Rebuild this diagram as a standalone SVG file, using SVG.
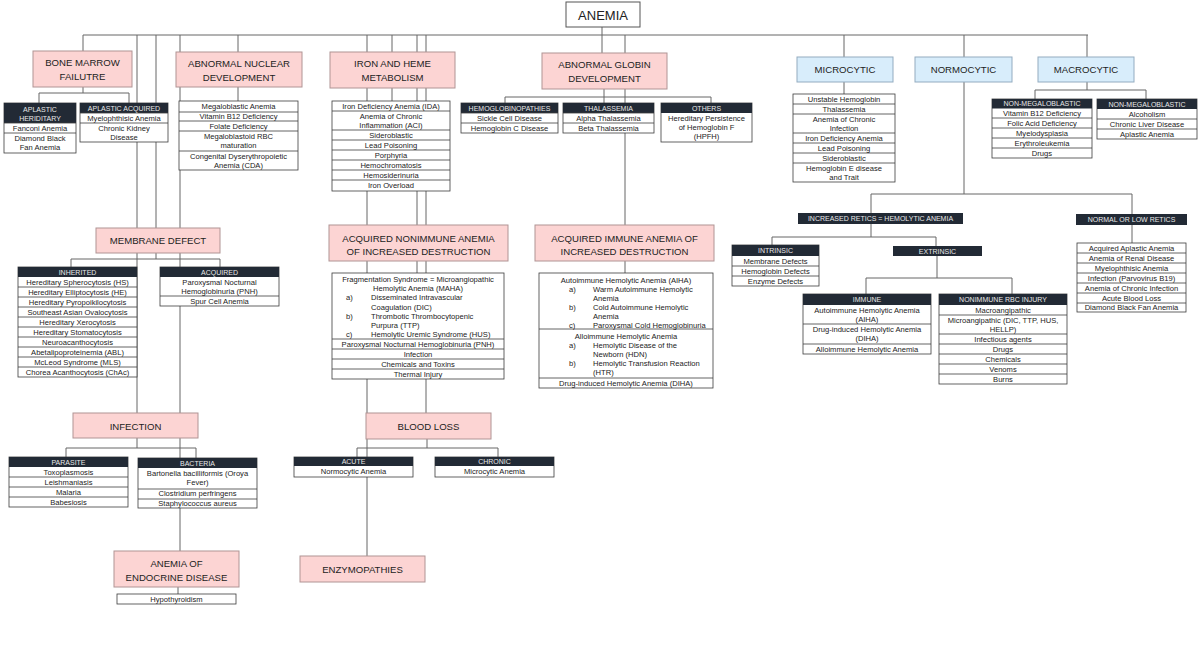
<svg xmlns="http://www.w3.org/2000/svg" width="1200" height="654" viewBox="0 0 1200 654">
<style>
text{font-family:"Liberation Sans",Arial,sans-serif;fill:#222;text-anchor:middle}
.tt{font-size:9.6px}
.tl{font-size:7.6px}
.ta{font-size:7.6px;text-anchor:start}
.th{font-size:7px;fill:#e8e8e8}
.pk{fill:#fcd4d3;stroke:#b09494;stroke-width:1}
.bl{fill:#d8edfb;stroke:#93abc0;stroke-width:1}
.wb{fill:#fff;stroke:#3c3c3c;stroke-width:0.8}
.hd{fill:#222a35}
.sp{fill:none;stroke:#3c3c3c;stroke-width:0.8}
.c{fill:none;stroke:#666;stroke-width:1}
</style>
<rect width="1200" height="654" fill="#fff"/>
<g id="connectors" class="c">
<path d="M83 35H1088M602 27V53M83 35V51M137 35V448M156 35V259M180 35V551M238 35V101M367 35V556M392 35V101M417 35V273M426 35V413M625 35V273"/>
<path d="M604 89V103M505 97H711M505 97V103M711 97V103"/>
<path d="M844 35V94M964 35V194M1087 35V90M1035 90H1146M1035 90V99M1146 90V99"/>
<path d="M871 194H1132M871 194V237M1132 194V243M772 237H936M772 237V245M936 237V246M937 256V278M866 278H1012M866 278V294M1012 278V294"/>
<path d="M83 87V93M39 93H129M39 93V103M129 93V103M71 259H220M71 259V267M220 259V267M66 448H196M66 448V457M196 448V458M178 587V594"/>
<path d="M427 439V448M357 448H498M357 448V457M498 448V457"/>
</g>
<g id="anemia"><rect x="566" y="2" width="74" height="25" fill="#fff" stroke="#555"/><text x="603" y="19.5" style="font-size:13px">ANEMIA</text></g>
<g id="bone-marrow"><rect class="pk" x="33" y="51" width="99" height="36"/><text class="tt" x="82.5" y="66">BONE MARROW</text><text class="tt" x="82.5" y="80">FAILUTRE</text></g>
<g id="aplastic-hereditary"><rect class="wb" x="4" y="103" width="72" height="50"/><rect class="hd" x="4" y="103" width="72" height="20"/><path class="sp" d="M4 123h72M4 133h72"/><text class="th" x="40" y="111.5">APLASTIC</text><text class="th" x="40" y="120.5">HERIDITARY</text><text class="tl" x="40" y="130.6">Fanconi Anemia</text><text class="tl" x="40" y="141">Diamond Black</text><text class="tl" x="40" y="150">Fan Anemia</text></g>
<g id="aplastic-acquired"><rect class="wb" x="80" y="103" width="88" height="39"/><rect class="hd" x="80" y="103" width="88" height="10"/><path class="sp" d="M80 113h88M80 123h88"/><text class="th" x="124" y="110.6">APLASTIC ACQUIRED</text><text class="tl" x="124" y="120.6">Myelophthisic Anemia</text><text class="tl" x="124" y="130.5">Chronic Kidney</text><text class="tl" x="124" y="139.5">Disease</text></g>
<g id="abnormal-nuclear"><rect class="pk" x="176" y="52" width="126" height="35"/><text class="tt" x="239" y="66.5">ABNORMAL NUCLEAR</text><text class="tt" x="239" y="80.5">DEVELOPMENT</text></g>
<g id="nuclear-list"><rect class="wb" x="179" y="101" width="119" height="69"/><path class="sp" d="M179 112h119M179 121h119M179 131h119M179 151h119"/><text class="tl" x="238.5" y="108.8">Megaloblastic Anemia</text><text class="tl" x="238.5" y="118.6">Vitamin B12 Deficiency</text><text class="tl" x="238.5" y="128.6">Folate Deficiency</text><text class="tl" x="238.5" y="138.5">Megaloblastoid RBC</text><text class="tl" x="238.5" y="148">maturation</text><text class="tl" x="238.5" y="158.5">Congenital Dyserythropoietic</text><text class="tl" x="238.5" y="167.5">Anemia (CDA)</text></g>
<g id="iron-heme"><rect class="pk" x="330" y="52" width="125" height="36"/><text class="tt" x="392.5" y="66.5">IRON AND HEME</text><text class="tt" x="392.5" y="80.5">METABOLISM</text></g>
<g id="iron-list"><rect class="wb" x="332" y="101" width="118" height="90"/><path class="sp" d="M332 111h118M332 130h118M332 140h118M332 150h118M332 160h118M332 170h118M332 180h118"/><text class="tl" x="391" y="108.6">Iron Deficiency Anemia (IDA)</text><text class="tl" x="391" y="118.5">Anemia of Chronic</text><text class="tl" x="391" y="127.5">Inflammation (ACI)</text><text class="tl" x="391" y="137.6">Sideroblastic</text><text class="tl" x="391" y="147.6">Lead Poisoning</text><text class="tl" x="391" y="157.6">Porphyria</text><text class="tl" x="391" y="167.6">Hemochromatosis</text><text class="tl" x="391" y="177.6">Hemosiderinuria</text><text class="tl" x="391" y="188">Iron Overload</text></g>
<g id="abnormal-globin"><rect class="pk" x="542" y="53" width="125" height="36"/><text class="tt" x="604.5" y="68">ABNORMAL GLOBIN</text><text class="tt" x="604.5" y="81.5">DEVELOPMENT</text></g>
<g id="hemoglobinopathies"><rect class="wb" x="461" y="103" width="97" height="30"/><rect class="hd" x="461" y="103" width="97" height="10"/><path class="sp" d="M461 113h97M461 123h97"/><text class="th" x="509.5" y="110.6">HEMOGLOBINOPATHIES</text><text class="tl" x="509.5" y="120.6">Sickle Cell Disease</text><text class="tl" x="509.5" y="130.6">Hemoglobin C Disease</text></g>
<g id="thalassemia"><rect class="wb" x="563" y="103" width="91" height="30"/><rect class="hd" x="563" y="103" width="91" height="10"/><path class="sp" d="M563 113h91M563 123h91"/><text class="th" x="608.5" y="110.6">THALASSEMIA</text><text class="tl" x="608.5" y="120.6">Alpha Thalassemia</text><text class="tl" x="608.5" y="130.6">Beta Thalassemia</text></g>
<g id="others"><rect class="wb" x="661" y="103" width="91" height="39"/><rect class="hd" x="661" y="103" width="91" height="10"/><text class="th" x="706.5" y="110.6">OTHERS</text><text class="tl" x="706.5" y="120.5">Hereditary Persistence</text><text class="tl" x="706.5" y="129.5">of Hemoglobin F</text><text class="tl" x="706.5" y="138.5">(HPFH)</text></g>
<g id="microcytic"><rect class="bl" x="797" y="57" width="96" height="25"/><text class="tt" x="845" y="72.5">MICROCYTIC</text></g>
<g id="normocytic"><rect class="bl" x="915" y="57" width="97" height="25"/><text class="tt" x="963.5" y="72.5">NORMOCYTIC</text></g>
<g id="macrocytic"><rect class="bl" x="1038" y="57" width="96" height="25"/><text class="tt" x="1086" y="72.5">MACROCYTIC</text></g>
<g id="microcytic-list"><rect class="wb" x="793" y="94" width="102" height="88"/><path class="sp" d="M793 104h102M793 114h102M793 133h102M793 143h102M793 153h102M793 163h102"/><text class="tl" x="844" y="101.6">Unstable Hemoglobin</text><text class="tl" x="844" y="111.6">Thalassemia</text><text class="tl" x="844" y="121.5">Anemia of Chronic</text><text class="tl" x="844" y="130.5">Infection</text><text class="tl" x="844" y="140.6">Iron Deficiency Anemia</text><text class="tl" x="844" y="150.6">Lead Poisoning</text><text class="tl" x="844" y="160.6">Sideroblastic</text><text class="tl" x="844" y="170.5">Hemoglobin E disease</text><text class="tl" x="844" y="179.5">and Trait</text></g>
<g id="non-megaloblastic-1"><rect class="wb" x="992" y="99" width="100" height="59"/><rect class="hd" x="992" y="99" width="100" height="9.5"/><path class="sp" d="M992 118h100M992 128h100M992 138h100M992 148h100"/><text class="th" x="1042" y="106.3">NON-MEGALOBLASTIC</text><text class="tl" x="1042" y="115.8">Vitamin B12 Deficiency</text><text class="tl" x="1042" y="125.6">Folic Acid Deficiency</text><text class="tl" x="1042" y="135.6">Myelodysplasia</text><text class="tl" x="1042" y="145.6">Erythroleukemia</text><text class="tl" x="1042" y="155.6">Drugs</text></g>
<g id="non-megaloblastic-2"><rect class="wb" x="1097" y="99" width="100" height="40"/><rect class="hd" x="1097" y="99" width="100" height="10"/><path class="sp" d="M1097 119h100M1097 129h100"/><text class="th" x="1147" y="106.6">NON-MEGALOBLASTIC</text><text class="tl" x="1147" y="116.6">Alcoholism</text><text class="tl" x="1147" y="126.6">Chronic Liver Disease</text><text class="tl" x="1147" y="136.6">Aplastic Anemia</text></g>
<g id="increased-retics"><rect class="hd" x="798" y="213" width="165" height="11"/><text class="th" x="880.5" y="221">INCREASED RETICS = HEMOLYTIC ANEMIA</text></g>
<g id="normal-low-retics"><rect class="hd" x="1076" y="214" width="111" height="11"/><text class="th" x="1131.5" y="222">NORMAL OR LOW RETICS</text></g>
<g id="normal-low-list"><rect class="wb" x="1077" y="243" width="109" height="69"/><path class="sp" d="M1077 253h109M1077 263h109M1077 273h109M1077 283h109M1077 293h109M1077 303h109"/><text class="tl" x="1131.5" y="250.6">Acquired Aplastic Anemia</text><text class="tl" x="1131.5" y="260.6">Anemia of Renal Disease</text><text class="tl" x="1131.5" y="270.6">Myelophthisic Anemia</text><text class="tl" x="1131.5" y="280.6">Infection (Parvovirus B19)</text><text class="tl" x="1131.5" y="290.6">Anemia of Chronic Infection</text><text class="tl" x="1131.5" y="300.6">Acute Blood Loss</text><text class="tl" x="1131.5" y="310">Diamond Black Fan Anemia</text></g>
<g id="intrinsic"><rect class="wb" x="732" y="245" width="87" height="41"/><rect class="hd" x="732" y="245" width="87" height="11"/><path class="sp" d="M732 266h87M732 276h87"/><text class="th" x="775.5" y="253">INTRINSIC</text><text class="tl" x="775.5" y="263.6">Membrane Defects</text><text class="tl" x="775.5" y="273.6">Hemoglobin Defects</text><text class="tl" x="775.5" y="283.6">Enzyme Defects</text></g>
<g id="extrinsic"><rect class="hd" x="893" y="246" width="89" height="10"/><text class="th" x="937.5" y="253.5">EXTRINSIC</text></g>
<g id="immune"><rect class="wb" x="803" y="294" width="128" height="60"/><rect class="hd" x="803" y="294" width="128" height="11"/><path class="sp" d="M803 324h128M803 344h128"/><text class="th" x="867" y="302">IMMUNE</text><text class="tl" x="867" y="312.5">Autoimmune Hemolytic Anemia</text><text class="tl" x="867" y="321.5">(AIHA)</text><text class="tl" x="867" y="332">Drug-induced Hemolytic Anemia</text><text class="tl" x="867" y="341">(DIHA)</text><text class="tl" x="867" y="351.6">Alloimmune Hemolytic Anemia</text></g>
<g id="nonimmune-rbc"><rect class="wb" x="939" y="294" width="128" height="90"/><rect class="hd" x="939" y="294" width="128" height="11"/><path class="sp" d="M939 315h128M939 334h128M939 344h128M939 354h128M939 364h128M939 374h128"/><text class="th" x="1003" y="302">NONIMMUNE RBC INJURY</text><text class="tl" x="1003" y="312.6">Macroangipathic</text><text class="tl" x="1003" y="322.5">Microangipathic (DIC, TTP, HUS,</text><text class="tl" x="1003" y="331.5">HELLP)</text><text class="tl" x="1003" y="341.6">Infectious agents</text><text class="tl" x="1003" y="351.6">Drugs</text><text class="tl" x="1003" y="361.6">Chemicals</text><text class="tl" x="1003" y="371.6">Venoms</text><text class="tl" x="1003" y="381.6">Burns</text></g>
<g id="membrane-defect"><rect class="pk" x="96" y="228" width="124" height="25"/><text class="tt" x="158" y="244">MEMBRANE DEFECT</text></g>
<g id="inherited"><rect class="wb" x="18" y="267" width="119" height="110"/><rect class="hd" x="18" y="267" width="119" height="10"/><path class="sp" d="M18 287h119M18 297h119M18 307h119M18 317h119M18 327h119M18 337h119M18 347h119M18 357h119M18 367h119"/><text class="th" x="77.5" y="274.6">INHERITED</text><text class="tl" x="77.5" y="284.6">Hereditary Spherocytosis (HS)</text><text class="tl" x="77.5" y="294.6">Hereditary Elliptocytosis (HE)</text><text class="tl" x="77.5" y="304.6">Hereditary Pyropoikilocytosis</text><text class="tl" x="77.5" y="314.6">Southeast Asian Ovalocytosis</text><text class="tl" x="77.5" y="324.6">Hereditary Xerocytosis</text><text class="tl" x="77.5" y="334.6">Hereditary Stomatocytosis</text><text class="tl" x="77.5" y="344.6">Neuroacanthocytosis</text><text class="tl" x="77.5" y="354.6">Abetalipoproteinemia (ABL)</text><text class="tl" x="77.5" y="364.6">McLeod Syndrome (MLS)</text><text class="tl" x="77.5" y="374.6">Chorea Acanthocytosis (ChAc)</text></g>
<g id="acquired-membrane"><rect class="wb" x="160" y="267" width="119" height="39"/><rect class="hd" x="160" y="267" width="119" height="10"/><path class="sp" d="M160 296h119"/><text class="th" x="219.5" y="274.6">ACQUIRED</text><text class="tl" x="219.5" y="284.5">Paroxysmal Nocturnal</text><text class="tl" x="219.5" y="293.5">Hemoglobinuria (PNH)</text><text class="tl" x="219.5" y="303.6">Spur Cell Anemia</text></g>
<g id="nonimmune-destruction"><rect class="pk" x="329" y="225" width="179" height="36"/><text class="tt" x="418.5" y="241.5">ACQUIRED NONIMMUNE ANEMIA</text><text class="tt" x="418.5" y="254.5">OF INCREASED DESTRUCTION</text></g>
<g id="nonimmune-list"><rect class="wb" x="332" y="273" width="172" height="106"/><path class="sp" d="M332 339h172M332 349h172M332 359h172M332 369h172"/><text class="tl" x="418" y="281.5">Fragmentation Syndrome = Microangiopathic</text><text class="tl" x="418" y="291">Hemolytic Anemia (MAHA)</text><text class="ta" x="346" y="300">a)</text><text class="ta" x="371" y="300">Disseminated Intravascular</text><text class="ta" x="371" y="309.5">Coagulation (DIC)</text><text class="ta" x="346" y="319">b)</text><text class="ta" x="371" y="319">Thrombotic Thrombocytopenic</text><text class="ta" x="371" y="328">Purpura (TTP)</text><text class="ta" x="346" y="337">c)</text><text class="ta" x="371" y="337">Hemolytic Uremic Syndrome (HUS)</text><text class="tl" x="418" y="346.6">Paroxysmal Nocturnal Hemoglobinuria (PNH)</text><text class="tl" x="418" y="356.6">Infection</text><text class="tl" x="418" y="366.6">Chemicals and Toxins</text><text class="tl" x="418" y="376.6">Thermal Injury</text></g>
<g id="immune-destruction"><rect class="pk" x="535" y="225" width="179" height="36"/><text class="tt" x="624.5" y="241.5">ACQUIRED IMMUNE ANEMIA OF</text><text class="tt" x="624.5" y="254.5">INCREASED DESTRUCTION</text></g>
<g id="immune-list"><rect class="wb" x="539" y="273" width="174" height="115"/><path class="sp" d="M539 329h174M539 378h174"/><text class="tl" x="626" y="282.5">Autoimmune Hemolytic Anemia (AIHA)</text><text class="ta" x="569" y="291.5">a)</text><text class="ta" x="593" y="291.5">Warm Autoimmune Hemolytic</text><text class="ta" x="593" y="300.5">Anemia</text><text class="ta" x="569" y="309.5">b)</text><text class="ta" x="593" y="309.5">Cold Autoimmune Hemolytic</text><text class="ta" x="593" y="318.5">Anemia</text><text class="ta" x="569" y="327.5">c)</text><text class="ta" x="593" y="327.5">Paroxysmal Cold Hemoglobinuria</text><text class="tl" x="626" y="338.5">Alloimmune Hemolytic Anemia</text><text class="ta" x="569" y="347.5">a)</text><text class="ta" x="593" y="347.5">Hemolytic Disease of the</text><text class="ta" x="593" y="356.5">Newborn (HDN)</text><text class="ta" x="569" y="365.5">b)</text><text class="ta" x="593" y="365.5">Hemolytic Transfusion Reaction</text><text class="ta" x="593" y="374.5">(HTR)</text><text class="tl" x="626" y="385.6">Drug-induced Hemolytic Anemia (DIHA)</text></g>
<g id="infection"><rect class="pk" x="73" y="413" width="125" height="25"/><text class="tt" x="135.5" y="429.5">INFECTION</text></g>
<g id="parasite"><rect class="wb" x="9" y="457" width="119" height="50"/><rect class="hd" x="9" y="457" width="119" height="10"/><path class="sp" d="M9 477h119M9 487h119M9 497h119"/><text class="th" x="68.5" y="464.6">PARASITE</text><text class="tl" x="68.5" y="474.6">Toxoplasmosis</text><text class="tl" x="68.5" y="484.6">Leishmaniasis</text><text class="tl" x="68.5" y="494.6">Malaria</text><text class="tl" x="68.5" y="504.6">Babesiosis</text></g>
<g id="bacteria"><rect class="wb" x="138" y="458" width="119" height="50"/><rect class="hd" x="138" y="458" width="119" height="10"/><path class="sp" d="M138 489h119M138 499h119"/><text class="th" x="197.5" y="465.6">BACTERIA</text><text class="tl" x="197.5" y="475.5">Bartonella bacilliformis (Oroya</text><text class="tl" x="197.5" y="484.5">Fever)</text><text class="tl" x="197.5" y="496.3">Clostridium perfringens</text><text class="tl" x="197.5" y="506">Staphylococcus aureus</text></g>
<g id="endocrine"><rect class="pk" x="114" y="551" width="125" height="36"/><text class="tt" x="176.5" y="566.5">ANEMIA OF</text><text class="tt" x="176.5" y="580.5">ENDOCRINE DISEASE</text></g>
<g id="hypothyroidism"><rect class="wb" x="117" y="594" width="119" height="10"/><text class="tl" x="176.5" y="601.6">Hypothyroidism</text></g>
<g id="blood-loss"><rect class="pk" x="366" y="413" width="125" height="26"/><text class="tt" x="428.5" y="429.5">BLOOD LOSS</text></g>
<g id="acute"><rect class="wb" x="294" y="457" width="119" height="20"/><rect class="hd" x="294" y="457" width="119" height="9"/><text class="th" x="353.5" y="464">ACUTE</text><text class="tl" x="353.5" y="474">Normocytic Anemia</text></g>
<g id="chronic"><rect class="wb" x="435" y="457" width="119" height="20"/><rect class="hd" x="435" y="457" width="119" height="9"/><text class="th" x="494.5" y="464">CHRONIC</text><text class="tl" x="494.5" y="474">Microcytic Anemia</text></g>
<g id="enzymopathies"><rect class="pk" x="300" y="556" width="125" height="26"/><text class="tt" x="362.5" y="572.5">ENZYMOPATHIES</text></g>
</svg>
